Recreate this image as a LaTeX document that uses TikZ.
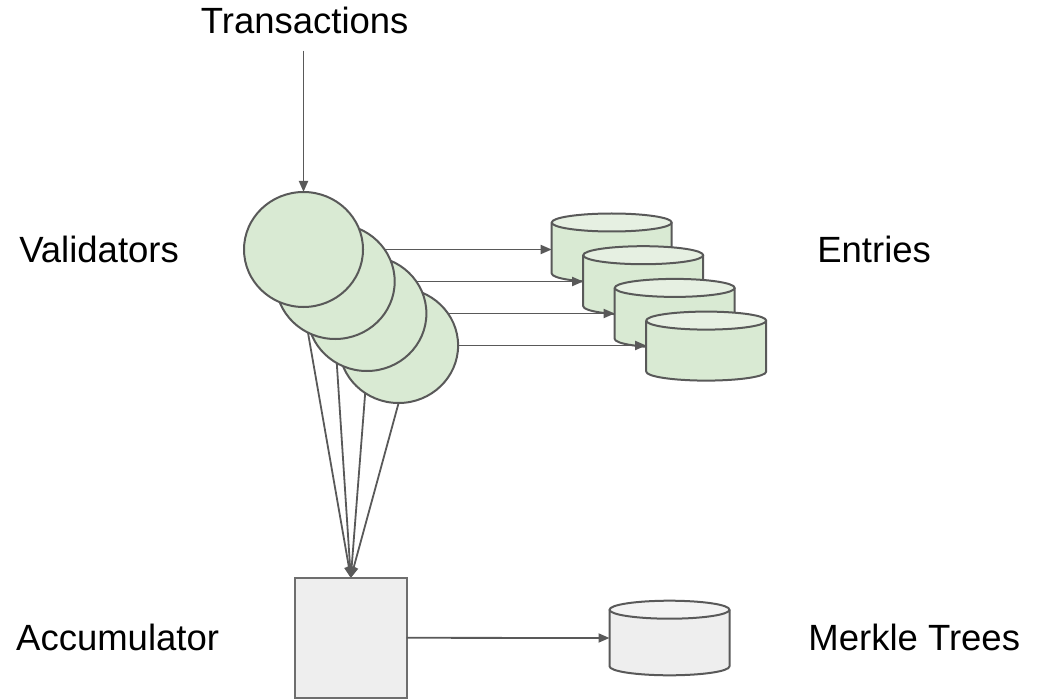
\documentclass[tikz,border=0pt]{standalone}
\usepackage{fontspec}
\setmainfont{Liberation Sans}
\usetikzlibrary{shapes.geometric,arrows.meta}
\pgfdeclarelayer{back}
\pgfdeclarelayer{mid}
\pgfsetlayers{back,mid,main}
\definecolor{edgec}{HTML}{595959}
\definecolor{greenfill}{HTML}{D9EAD3}
\definecolor{greentop}{HTML}{E6F0E2}
\definecolor{greyfill}{HTML}{EEEEEE}
\definecolor{greytop}{HTML}{F3F3F3}
\definecolor{rectedge}{HTML}{6E6E6E}
\tikzset{
  lbl/.style={anchor=base,inner sep=0pt,font=\fontsize{36.5}{40}\selectfont},
  valnode/.style={ellipse,draw=edgec,fill=greenfill,line width=2pt,minimum width=119pt,minimum height=115pt,inner sep=0pt,outer sep=0pt},
  cylbox/.style={rectangle,inner sep=0pt,outer sep=0pt,minimum width=120pt},
  accbox/.style={rectangle,draw=rectedge,fill=greyfill,line width=2pt,minimum width=111.7pt,minimum height=119.6pt,inner sep=0pt,outer sep=0pt},
  arr/.style={draw=edgec,line width=1.8pt,-{Triangle[length=11pt,width=9pt]}},
  cylline/.style={draw=edgec,line width=2pt,line join=round},
}
% #1 name, #2 cx, #3 cy, #4 half height, #5 body fill, #6 top fill
\newcommand\mycyl[6]{%
  \node[cylbox,minimum height=2*#4 pt] (#1) at (#2,#3) {};
  \fill[#5] (#2-60,#3+#4-9) -- (#2-60,#3-#4+9) arc[start angle=180,end angle=360,x radius=60,y radius=9] -- (#2+60,#3+#4-9) -- cycle;
  \draw[cylline] (#2-60,#3+#4-9) -- (#2-60,#3-#4+9) arc[start angle=180,end angle=360,x radius=60,y radius=9] -- (#2+60,#3+#4-9);
  \filldraw[cylline,fill=#6] (#2,#3+#4-9) ellipse[x radius=60,y radius=9];
}
\begin{document}
\begin{tikzpicture}[x=1pt,y=1pt]
\useasboundingbox (0,0) rectangle (1040,-700);
% labels
\node[lbl] (tr) at (304.7,-34) {Transactions};
\node[lbl] (vl) at (99.1,-262.7) {Validators};
\node[lbl] (en) at (874.1,-262.7) {Entries};
\node[lbl] (al) at (117.6,-650) {Accumulator};
\node[lbl] (ml) at (914.2,-650) {Merkle Trees};
% entry cylinders
\begin{pgfonlayer}{back}
\mycyl{e1}{611.7}{-248}{34.5}{greenfill}{greentop}
\mycyl{e2}{643.2}{-280.7}{34.5}{greenfill}{greentop}
\mycyl{e3}{674.7}{-313.4}{34.5}{greenfill}{greentop}
\mycyl{e4}{706.2}{-346.1}{34.5}{greenfill}{greentop}
\end{pgfonlayer}
% validators (back to front)
\node[valnode] (v4) at (398.6,-345.5) {};
\node[valnode] (v3) at (366.9,-313.5) {};
\node[valnode] (v2) at (335.2,-281.5) {};
\node[valnode] (v1) at (303.5,-249.5) {};
% accumulator and merkle trees
\node[accbox] (acc) at (350.8,-637.8) {};
\mycyl{mt}{669.5}{-638}{37.3}{greyfill}{greytop}
% connectors
\draw[arr] ([yshift=-16pt]tr.south -| v1.north) -- (v1.north);
\begin{pgfonlayer}{mid}
\draw[arr] (v1.center) -- (v1.center -| e1.west);
\draw[arr] (v2.center) -- (v2.center -| e2.west);
\draw[arr] (v3.center) -- (v3.center -| e3.west);
\draw[arr] (v4.center) -- (v4.center -| e4.west);
\draw[arr] (v1.south) -- (acc.north);
\draw[arr] (v2.south) -- (acc.north);
\draw[arr] (v3.south) -- (acc.north);
\draw[arr] (v4.south) -- (acc.north);
\end{pgfonlayer}
\draw[arr] (acc.east) -- (mt.west);
\end{tikzpicture}
\end{document}
